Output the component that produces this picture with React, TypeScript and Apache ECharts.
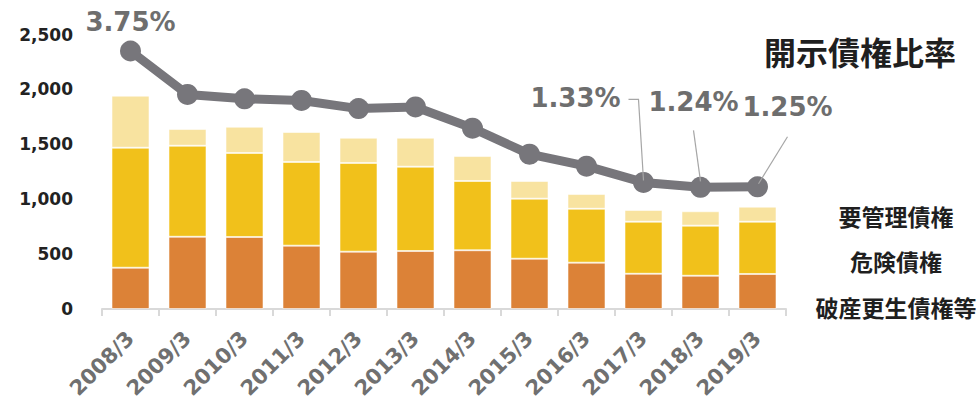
import React, { useEffect, useRef } from "react";
import * as echarts from "echarts";

const categories = ["2008/3", "2009/3", "2010/3", "2011/3", "2012/3", "2013/3", "2014/3", "2015/3", "2016/3", "2017/3", "2018/3", "2019/3"];
const seriesNames = ["破産更生債権等", "危険債権", "要管理債権"];
const hasan = [376, 658, 656, 577, 522, 528, 535, 458, 422, 321, 303, 319];
const kiken = [1093, 829, 765, 762, 808, 768, 631, 547, 491, 474, 456, 476];
const yokanri = [474, 152, 239, 273, 230, 264, 227, 161, 134, 107, 131, 137];
const ratio = [3.75, 2.95, 2.87, 2.84, 2.69, 2.72, 2.33, 1.85, 1.63, 1.33, 1.24, 1.25];
const ratioLabeled = [true, false, false, false, false, false, false, false, false, true, true, true];
const ratioTitle = "開示債権比率";
const yTicks = { min: 0, max: 2500, interval: 500 };

const colors = ["#DC8237", "#F1C11B", "#F8E3A0"];
const lineColor = "#77767B";
const labelGrey = "#6E6E6E";
const latin = "'DejaVu Sans', Verdana, sans-serif";
const cjk = "'Noto Sans CJK JP', sans-serif";

export default function App() {
  const ref = useRef<HTMLDivElement>(null);
  useEffect(() => {
    if (!ref.current) return;
    const chart = echarts.init(ref.current, null, { renderer: "svg" });
    const barData = [hasan, kiken, yokanri];
    const labelOffsets: Record<number, [number, number]> = {
      9: [-68, -55],
      10: [-7, -56],
      11: [30, -50],
    };
    // leader line shapes, relative to the labelled point
    const leaderShapes: Record<number, number[][]> = {
      9: [[-15, -83], [-5, -83], [0, -2]],
      10: [[-7, -57], [0, -6]],
      11: [[30, -50], [1, -3]],
    };
    const labelTitles = [
      { name: seriesNames[2], y: 215.5 },
      { name: seriesNames[1], y: 260.5 },
      { name: seriesNames[0], y: 306.5 },
    ];
    const staticGraphics: any[] = [
      {
        type: "text",
        x: 860,
        y: 51,
        style: {
          text: ratioTitle,
          fill: "#1F1F1F",
          font: `bold 32px ${cjk}`,
          textAlign: "center",
          textVerticalAlign: "middle",
        },
      },
      ...labelTitles.map((t) => ({
        type: "text",
        x: 896,
        y: t.y,
        style: {
          text: t.name,
          fill: "#1F1F1F",
          font: `bold 23px ${cjk}`,
          textAlign: "center",
          textVerticalAlign: "middle",
        },
      })),
    ];
    chart.setOption({
      animation: false,
      grid: { left: 102, right: 194, top: 34.5, bottom: 92, containLabel: false, outerBoundsMode: "none" },
      xAxis: {
        type: "category",
        data: categories,
        axisLine: { show: true, lineStyle: { color: "#D9D9D9", width: 2 } },
        axisTick: { show: true, length: 7, lineStyle: { color: "#D9D9D9", width: 2 } },
        axisLabel: {
          rotate: 45,
          margin: 26,
          color: "#707070",
          fontFamily: latin,
          fontWeight: "bold",
          fontSize: 21,
        },
      },
      yAxis: [
        {
          type: "value",
          min: yTicks.min,
          max: yTicks.max,
          interval: yTicks.interval,
          splitLine: { show: false },
          axisLine: { show: false },
          axisTick: { show: false },
          axisLabel: {
            margin: 29,
            color: "#222",
            fontFamily: latin,
            fontWeight: "bold",
            fontSize: 17,
            formatter: (v: number) => v.toLocaleString("en-US"),
          },
        },
        {
          type: "value",
          min: -1,
          max: 4.054,
          show: false,
          splitLine: { show: false },
        },
      ],
      series: [
        ...barData.map((d, i) => ({
          name: seriesNames[i],
          type: "bar",
          stack: "total",
          barWidth: 38,
          data: d,
          itemStyle: { color: colors[i], borderColor: "rgba(255,255,255,0.55)", borderWidth: 1 },
        })),
        {
          name: ratioTitle,
          type: "line",
          yAxisIndex: 1,
          symbol: "circle",
          symbolSize: 21,
          z: 3,
          itemStyle: { color: lineColor },
          lineStyle: { color: lineColor, width: 9 },
          data: ratio.map((v, i) => ({
            value: v,
            label: { show: ratioLabeled[i] },
          })),
          label: {
            show: false,
            position: "top",
            distance: 6,
            color: labelGrey,
            fontFamily: latin,
            fontWeight: "bold",
            fontSize: 26,
            formatter: (p: any) => p.value.toFixed(2) + "%",
          },
          labelLayout: (p: any) => {
            const o = labelOffsets[p.dataIndex];
            return o ? { dx: o[0], dy: o[1] } : {};
          },
        },
      ],
      graphic: staticGraphics,
    });
    const leaders = Object.keys(leaderShapes).map((k) => {
      const idx = Number(k);
      const [px, py] = chart.convertToPixel({ seriesIndex: 3 }, [idx, ratio[idx]]) as number[];
      return {
        type: "polyline",
        z: 10,
        shape: { points: leaderShapes[idx].map(([dx, dy]) => [px + dx, py + dy]) },
        style: { stroke: "#A6A6A6", lineWidth: 1.2, fill: null },
      };
    });
    chart.setOption({ graphic: [...staticGraphics, ...leaders] });
    return () => chart.dispose();
  }, []);
  return <div ref={ref} style={{ width: 980, height: 401, position: "absolute", left: 0, top: 0 }} />;
}
